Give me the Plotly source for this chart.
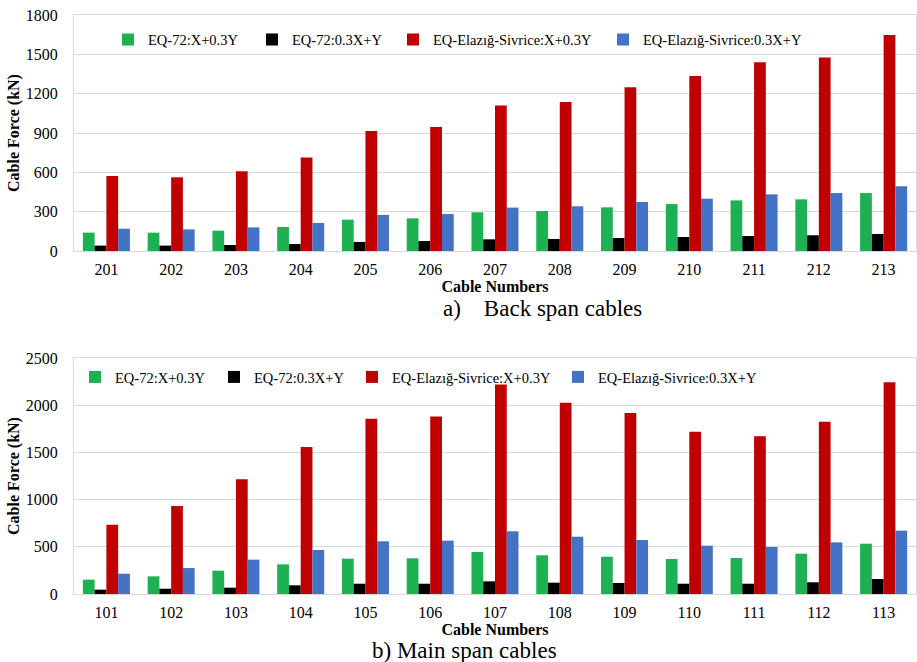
import plotly.graph_objects as go

back_cables = ["201", "202", "203", "204", "205", "206", "207", "208", "209", "210", "211", "212", "213"]
back_eq72_x = [140, 140, 155, 183, 239, 249, 295, 305, 333, 358, 386, 394, 442]
back_eq72_y = [41, 41, 46, 53, 69, 76, 89, 92, 99, 107, 114, 120, 130]
back_ela_x = [572, 562, 608, 714, 915, 946, 1109, 1137, 1248, 1335, 1439, 1475, 1648]
back_ela_y = [170, 165, 180, 214, 275, 282, 331, 341, 374, 399, 432, 442, 493]

main_cables = ["101", "102", "103", "104", "105", "106", "107", "108", "109", "110", "111", "112", "113"]
main_eq72_x = [152, 187, 247, 314, 374, 378, 445, 410, 395, 371, 381, 427, 533]
main_eq72_y = [46, 56, 67, 92, 109, 109, 134, 120, 117, 109, 109, 124, 159]
main_ela_x = [734, 932, 1215, 1557, 1857, 1879, 2218, 2027, 1917, 1720, 1670, 1826, 2242]
main_ela_y = [215, 275, 364, 466, 558, 565, 664, 607, 572, 512, 498, 547, 671]

series_names = ["EQ-72:X+0.3Y", "EQ-72:0.3X+Y", "EQ-Elazığ-Sivrice:X+0.3Y", "EQ-Elazığ-Sivrice:0.3X+Y"]
colors = ["#1DB154", "#000000", "#C00000", "#4472C4"]

W, H = 917, 662
FONT = "Liberation Serif"

fig = go.Figure()

def px_x(p):
    return p / W

def px_y(p):
    return 1 - p / H

top_series = [back_eq72_x, back_eq72_y, back_ela_x, back_ela_y]
bot_series = [main_eq72_x, main_eq72_y, main_ela_x, main_ela_y]

for i, (name, vals) in enumerate(zip(series_names, top_series)):
    fig.add_trace(go.Bar(x=back_cables, y=vals, name=name, marker_color=colors[i],
                         marker_line_width=0, xaxis="x", yaxis="y", showlegend=True,
                         legend="legend" if i == 0 else f"legend{i+1}"))
for i, (name, vals) in enumerate(zip(series_names, bot_series)):
    fig.add_trace(go.Bar(x=main_cables, y=vals, name=name, marker_color=colors[i],
                         marker_line_width=0, xaxis="x2", yaxis="y2", showlegend=True,
                         legend=f"legend{i+5}"))

grid = "#D9D9D9"
tickfont = dict(family=FONT, size=16, color="#000000")
titlefont = dict(family=FONT, size=16, color="#000000")

xdom = [px_x(74), px_x(916)]
common_x = dict(type="category", showgrid=False, showline=True, linecolor=grid, linewidth=1,
                mirror=True, ticks="", tickfont=tickfont, ticklabelstandoff=4, automargin=False)
common_y = dict(showgrid=True, gridcolor=grid, gridwidth=1, showline=True, linecolor=grid,
                linewidth=1, mirror=True, ticks="", tickfont=tickfont, zeroline=False,
                ticklabelstandoff=12, automargin=False)

fig.update_layout(
    width=W, height=H,
    margin=dict(l=0, r=0, t=0, b=0, autoexpand=False),
    paper_bgcolor="white", plot_bgcolor="white",
    showlegend=True,
    barmode="group", bargap=0.274, bargroupgap=0,
    font=dict(family=FONT, color="#000000"),
    xaxis=dict(domain=xdom, anchor="y",
               title=dict(text="<b>Cable Numbers</b>", font=titlefont, standoff=0), **common_x),
    yaxis=dict(domain=[px_y(251), px_y(15)], anchor="x", range=[0, 1800], dtick=300,
               title=dict(text="<b>Cable Force (kN)</b>", font=titlefont, standoff=2), **common_y),
    xaxis2=dict(domain=xdom, anchor="y2",
                title=dict(text="<b>Cable Numbers</b>", font=titlefont, standoff=0), **common_x),
    yaxis2=dict(domain=[px_y(594), px_y(358)], anchor="x2", range=[0, 2500], dtick=500,
                title=dict(text="<b>Cable Force (kN)</b>", font=titlefont, standoff=2), **common_y),
)

legend_font = dict(family=FONT, size=14.5, color="#000000")
top_marks = [128, 272, 413, 623]
bot_marks = [95, 234, 372, 578]
for i in range(4):
    key = "legend" if i == 0 else f"legend{i+1}"
    fig.update_layout(**{key: dict(x=px_x(top_marks[i] - 20), y=px_y(39.5), xanchor="left",
                                   yanchor="middle", orientation="h", font=legend_font, visible=True,
                                   bgcolor="rgba(0,0,0,0)", borderwidth=0, itemwidth=30)})
    key2 = f"legend{i+5}"
    fig.update_layout(**{key2: dict(x=px_x(bot_marks[i] - 20), y=px_y(377), xanchor="left",
                                    yanchor="middle", orientation="h", font=legend_font, visible=True,
                                    bgcolor="rgba(0,0,0,0)", borderwidth=0, itemwidth=30)})

fig.add_annotation(text="a)\u00a0\u00a0\u00a0\u00a0Back span cables", xref="paper", yref="paper",
                   x=px_x(441), y=px_y(309), xanchor="left", yanchor="middle", showarrow=False,
                   font=dict(family=FONT, size=23, color="#000000"))
fig.add_annotation(text="b) Main span cables", xref="paper", yref="paper",
                   x=px_x(370), y=px_y(650), xanchor="left", yanchor="middle", showarrow=False,
                   font=dict(family=FONT, size=23, color="#000000"))

fig.write_html("out.html", config={"displayModeBar": False},
               post_script="document.body.style.margin='0';document.body.style.padding='0';")
